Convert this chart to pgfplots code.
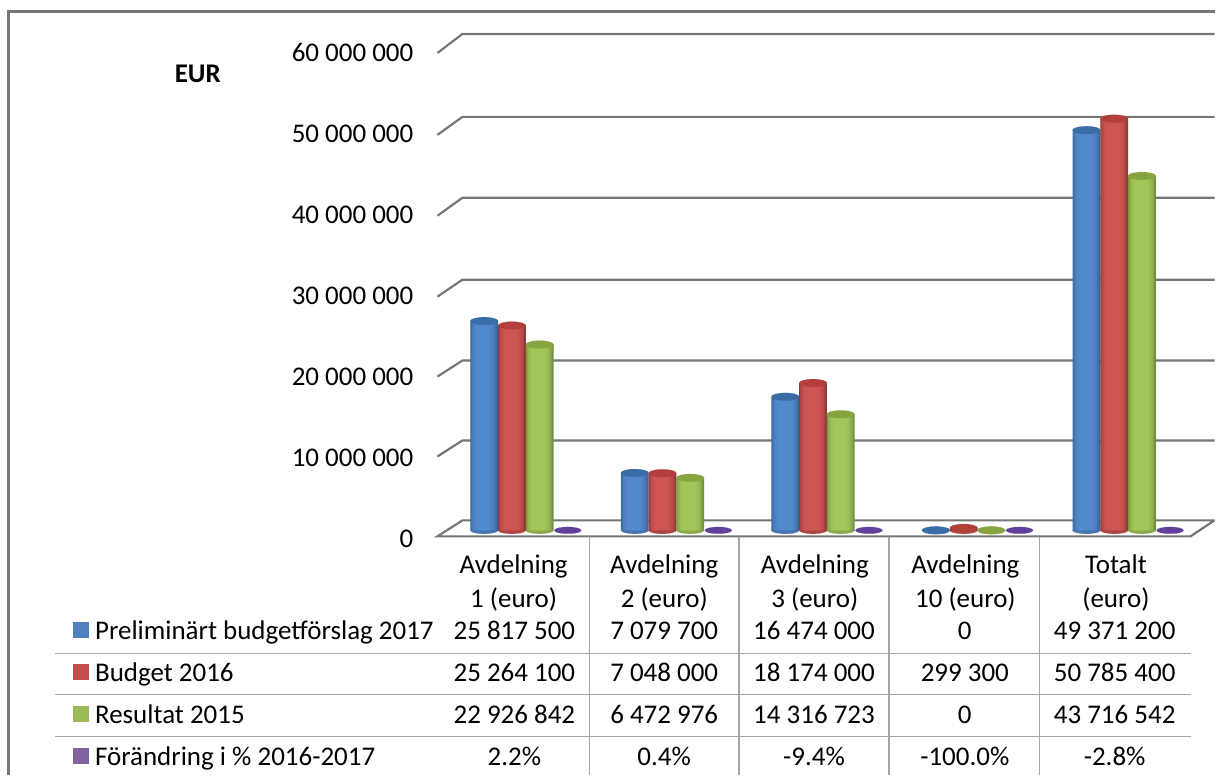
\documentclass[border=0pt]{standalone}
\usepackage{fontspec}
\setmainfont{Carlito}
\usepackage{pgfplots}
\usepackage{pgfplotstable}
\pgfplotsset{compat=1.18}
\definecolor{bmid}{HTML}{5288CC}\definecolor{be}{HTML}{3A6397}\definecolor{bt}{HTML}{3A6CA8}
\definecolor{rmid}{HTML}{CD5552}\definecolor{re}{HTML}{8F3836}\definecolor{rt}{HTML}{B23F3C}
\definecolor{gmid}{HTML}{A3C65A}\definecolor{ge}{HTML}{748E3E}\definecolor{gt}{HTML}{86A540}
\definecolor{pp}{HTML}{60409A}
\definecolor{lb}{HTML}{4F81BD}\definecolor{lr}{HTML}{C0504D}\definecolor{lgr}{HTML}{9BBB59}\definecolor{lp}{HTML}{8064A2}
\definecolor{gridc}{HTML}{777777}\definecolor{tabc}{HTML}{A6A6A6}
\pgfplotstableread{
x a b c d zero
0 25817500 25264100 22926842 0.022 0
1 7079700 7048000 6472976 0.004 0
2 16474000 18174000 14316723 -0.094 0
3 0 299300 0 -1.0 0
4 49371200 50785400 43716542 -0.028 0
}\chartdata
\newcommand{\fnt}{\fontsize{27}{34}\selectfont}
\newcommand{\cell}[3]{\node[font=\fnt,anchor=base,inner sep=0pt] at (axis cs:#1,#2+9) {#3};}
\newcommand{\legrow}[3]{\fill[#2] (axis cs:73,#1-8) rectangle (axis cs:89,#1+8);\node[font=\fnt,anchor=base west,inner sep=0pt] at (axis cs:95,#1+9) {#3};}
\newcommand{\gridl}[2]{\draw[gridc,line width=2.2pt] (axis cs:438,#1) -- (axis cs:463,#2) -- (axis cs:1216,#2);}
\newcommand{\tabh}[1]{\draw[tabc,line width=1.2pt] (axis cs:55,#1) -- (axis cs:1192,#1);}
\newcommand{\tabv}[1]{\draw[tabc,line width=1.2pt] (axis cs:#1,538) -- (axis cs:#1,776);}
\newcommand{\strip}[5]{\addplot[ybar,bar width=#3pt,bar shift=#4pt,draw=none,fill=#5] table[x expr=\thisrow{x}+#1,y=#2]{\chartdata};}
\newcommand{\cyl}[5]{%
 \addplot[only marks,mark=*,mark size=13.9pt,mark options={yscale=0.25,draw=#4!50!#3,fill=#4!50!#3,line width=0.1pt}] table[x expr=\thisrow{x}+#1,y=zero]{\chartdata};
 \strip{#1}{#2}{27.8}{0}{#4}
 \strip{#1}{#2}{25.8}{-0.4}{#4!65!#3}
 \strip{#1}{#2}{23}{-0.6}{#4!35!#3}
 \strip{#1}{#2}{19}{-0.8}{#4!12!#3}
 \strip{#1}{#2}{14}{-1}{#3}
 \addplot[only marks,mark=*,mark size=13.9pt,mark options={yscale=0.28,draw=#5,fill=#5,line width=0.1pt}] table[x expr=\thisrow{x}+#1,y=#2]{\chartdata};
}
\begin{document}
\begin{tikzpicture}
\begin{axis}[at={(0pt,0pt)},anchor=south west,scale only axis,width=1216pt,height=776pt,
  xmin=0,xmax=1216,ymin=0,ymax=776,y dir=reverse,hide axis,clip=false]
% fixes the page size
\path (axis cs:0,0) rectangle (axis cs:1216,776);
% frame
\draw[gridc,line width=3pt] (axis cs:8.5,776) -- (axis cs:8.5,11.5) -- (axis cs:1216,11.5);
% back-wall gridlines
\gridl{53}{34}\gridl{135}{117}\gridl{216}{198}\gridl{297}{280}\gridl{377}{361}\gridl{457}{441}
% floor
\draw[gridc,line width=2.2pt] (axis cs:1216,521) -- (axis cs:463,521) -- (axis cs:438,537) -- (axis cs:1192,537) -- (axis cs:1216,521);
% table rules
\tabh{654}\tabh{695}\tabh{737}
\tabv{590}\tabv{740}\tabv{890}\tabv{1041}
% title
\node[font=\fnt\bfseries,inner sep=0pt] at (axis cs:198,74) {EUR};
% legend column
\legrow{631}{lb}{Preliminärt budgetförslag 2017}
\legrow{673}{lr}{Budget 2016}
\legrow{715}{lgr}{Resultat 2015}
\legrow{757}{lp}{Förändring i \% 2016-2017}
% table
\cell{515}{631}{25 817 500}\cell{665}{631}{7 079 700}\cell{815}{631}{16 474 000}\cell{966}{631}{0}\cell{1116}{631}{49 371 200}
\cell{515}{673}{25 264 100}\cell{665}{673}{7 048 000}\cell{815}{673}{18 174 000}\cell{966}{673}{299 300}\cell{1116}{673}{50 785 400}
\cell{515}{715}{22 926 842}\cell{665}{715}{6 472 976}\cell{815}{715}{14 316 723}\cell{966}{715}{0}\cell{1116}{715}{43 716 542}
\cell{515}{757}{2.2\%}\cell{665}{757}{0.4\%}\cell{815}{757}{-9.4\%}\cell{966}{757}{-100.0\%}\cell{1116}{757}{-2.8\%}
\end{axis}
\begin{axis}[at={(438pt,245pt)},anchor=south west,scale only axis,width=778pt,height=487pt,
  xmin=-0.5061,xmax=4.6547,ymin=0,ymax=60000000,clip=false,clip mode=individual,
  axis line style={draw=none},tick style={draw=none},
  ytick={0,10000000,20000000,30000000,40000000,50000000,60000000},
  yticklabels={0,10 000 000,20 000 000,30 000 000,40 000 000,50 000 000,60 000 000},
  yticklabel style={font=\fnt,yshift=-9pt,xshift=-24pt,anchor=east,inner sep=0pt},
  scaled y ticks=false,
  xtick={0,1,2,3,4},
  xticklabels={{Avdelning\\1 (euro)},{Avdelning\\2 (euro)},{Avdelning\\3 (euro)},{Avdelning\\10 (euro)},{Totalt\\(euro)}},
  xticklabel style={font=\fnt,align=center,anchor=north,yshift=-24pt,inner sep=0pt},
  every axis plot/.append style={forget plot}]
\cyl{-0.1957}{a}{bmid}{be}{bt}
\cyl{-0.0113}{b}{rmid}{re}{rt}
\cyl{0.1725}{c}{gmid}{ge}{gt}
\addplot[only marks,mark=*,mark size=13.5pt,mark options={yscale=0.25,draw=pp,fill=pp,line width=0.1pt}] table[x expr=\thisrow{x}+0.3595,y=d]{\chartdata};
\end{axis}
\end{tikzpicture}
\end{document}
